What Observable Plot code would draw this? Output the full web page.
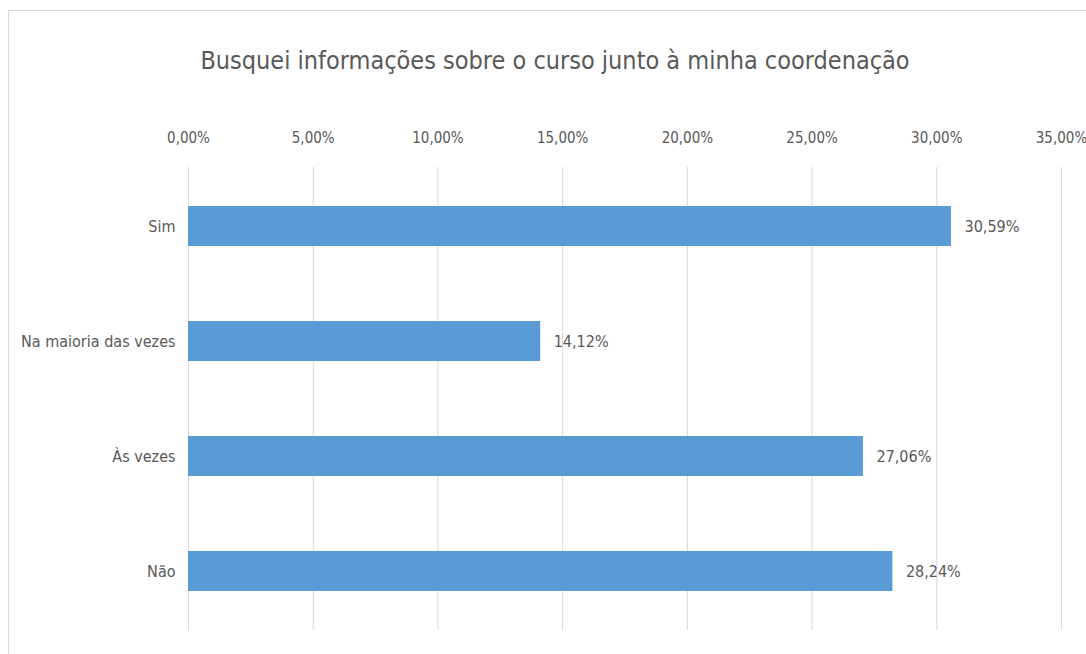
<!DOCTYPE html>
<html>
<head>
<meta charset="utf-8">
<script src="https://cdn.jsdelivr.net/npm/d3@7"></script>
<script src="https://cdn.jsdelivr.net/npm/@observablehq/plot@0.6"></script>
<style>
  html, body { margin: 0; padding: 0; background: #fff; }
  #wrap { position: relative; width: 1086px; height: 654px; overflow: hidden; background: #fff; }
  #frame { position: absolute; left: 8px; top: 10px; width: 1200px; height: 800px; border-left: 1px solid #d9d9d9; border-top: 1px solid #d9d9d9; }
  #title { position: absolute; left: 0; top: 48px; width: 1110px; text-align: center; font-family: "DejaVu Sans Condensed", "Liberation Sans Narrow", sans-serif; font-size: 25px; color: #595959; line-height: 1; }
  #chart { position: absolute; left: 0; top: 0; }
</style>
</head>
<body>
<div id="wrap">
  <div id="frame"></div>
  <div id="chart"></div>
  <div id="title">Busquei informações sobre o curso junto à minha coordenação</div>
</div>
<script>
const categories = ["Sim", "Na maioria das vezes", "Às vezes", "Não"];
const values = [0.3059, 0.1412, 0.2706, 0.2824];
const tickValues = [0, 0.05, 0.10, 0.15, 0.20, 0.25, 0.30, 0.35];

const data = categories.map((c, i) => ({category: c, value: values[i]}));
const ptBR = d3.formatLocale({decimal: ",", thousands: ".", grouping: [3], currency: ["R$", ""], percent: "%"});
const pct = ptBR.format(".2%");

const chart = Plot.plot({
  width: 1086,
  height: 654,
  marginTop: 167,
  marginBottom: 24,
  marginLeft: 188,
  marginRight: 25,
  style: {fontFamily: "'DejaVu Sans Condensed', 'Liberation Sans Narrow', sans-serif", fontSize: "16px", color: "#595959", background: "transparent"},
  x: {domain: [0, 0.35], axis: null},
  y: {domain: categories, paddingInner: 0.655, paddingOuter: 0.3275, align: 0.5, tickSize: 0, tickPadding: 13, label: null},
  marks: [
    Plot.axisX(tickValues, {anchor: "top", tickFormat: pct, tickSize: 0, tickPadding: 25, label: null, fontSize: 15}),
    Plot.ruleX(tickValues, {stroke: "#d9d9d9", strokeOpacity: 1, strokeWidth: 1}),
    Plot.barX(data, {y: "category", x: "value", fill: "#5b9bd5"}),
    Plot.text(data, {y: "category", x: "value", text: d => pct(d.value), textAnchor: "start", dx: 13, fill: "#595959", fontSize: 16})
  ]
});
document.getElementById("chart").appendChild(chart);
</script>
</body>
</html>
